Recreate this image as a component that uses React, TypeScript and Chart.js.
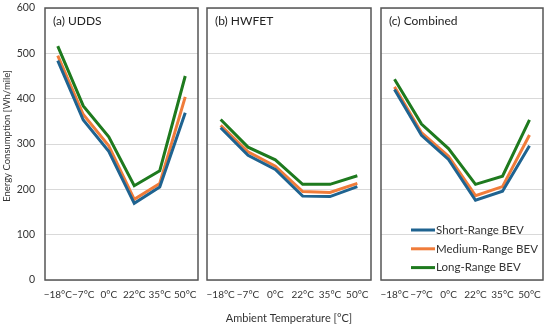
import React, { useEffect, useRef } from "react";
import { Chart, registerables } from "chart.js";
Chart.register(...registerables);

const categories = ["\u221218\u00b0C", "\u22127\u00b0C", "0\u00b0C", "22\u00b0C", "35\u00b0C", "50\u00b0C"];
const seriesNames = ["Short-Range BEV", "Medium-Range BEV", "Long-Range BEV"];
const colors = ["#1f6390", "#f07c3a", "#1e7a1e"];

const uddsShort = [484, 353, 284, 169, 205, 369];
const uddsMedium = [495, 365, 296, 178, 213, 404];
const uddsLong = [516, 384, 316, 208, 241, 450];

const hwfetShort = [336, 275, 244, 185, 184, 206];
const hwfetMedium = [341, 283, 251, 195, 193, 213];
const hwfetLong = [354, 293, 265, 211, 211, 230];

const combShort = [420, 319, 266, 176, 196, 296];
const combMedium = [426, 325, 273, 186, 206, 320];
const combLong = [443, 344, 290, 211, 229, 353];

const yTicks = [0, 100, 200, 300, 400, 500, 600];
const yTitle = "Energy Consumption [Wh/mile]";
const xTitle = "Ambient Temperature [\u00b0C]";

const FONT = "Lato, 'Noto Sans', sans-serif";

type PanelCfg = {
  label: string;
  data: number[][];
  left: number;
  width: number;
  padLeft: number;
  padRight: number;
  showY: boolean;
  xTitle: boolean;
  legend: boolean;
};

const panels: PanelCfg[] = [
  { label: "(a) UDDS", data: [uddsShort, uddsMedium, uddsLong], left: 0, width: 202, padLeft: 0, padRight: 4, showY: true, xTitle: false, legend: false },
  { label: "(b) HWFET", data: [hwfetShort, hwfetMedium, hwfetLong], left: 202, width: 173, padLeft: 5, padRight: 4, showY: false, xTitle: true, legend: false },
  { label: "(c) Combined", data: [combShort, combMedium, combLong], left: 375, width: 175, padLeft: 6, padRight: 7, showY: false, xTitle: false, legend: true },
];

function Panel({ cfg }: { cfg: PanelCfg }) {
  const ref = useRef<HTMLCanvasElement>(null);
  useEffect(() => {
    const canvas = ref.current!;
    const deco = {
      id: "deco",
      afterDatasetsDraw(chart: any) {
        const { ctx, chartArea } = chart;
        ctx.save();
        ctx.strokeStyle = "#555555";
        ctx.lineWidth = 1.5;
        ctx.strokeRect(chartArea.left, chartArea.top, chartArea.right - chartArea.left, chartArea.bottom - chartArea.top);
        ctx.fillStyle = "#222222";
        ctx.font = "12px " + FONT;
        ctx.textBaseline = "middle";
        ctx.textAlign = "left";
        ctx.fillText(cfg.label, chartArea.left + 8, chartArea.top + 13);
        if (cfg.showY) {
          ctx.save();
          ctx.translate(7, 136);
          ctx.rotate(-Math.PI / 2);
          ctx.textAlign = "center";
          ctx.fillStyle = "#333333";
          ctx.font = "9.5px " + FONT;
          ctx.fillText(yTitle, 0, 0);
          ctx.restore();
        }
        if (cfg.legend) {
          ctx.font = "11.5px " + FONT;
          seriesNames.forEach((n, i) => {
            const y = 230 + i * 18.8;
            ctx.strokeStyle = colors[i];
            ctx.lineWidth = 3;
            ctx.beginPath();
            ctx.moveTo(36, y);
            ctx.lineTo(60, y);
            ctx.stroke();
            ctx.fillStyle = "#333333";
            ctx.fillText(n, 61, y);
          });
        }
        ctx.restore();
      },
    };
    const chart = new Chart(canvas, {
      type: "line",
      data: {
        labels: categories,
        datasets: cfg.data.map((d, i) => ({
          label: seriesNames[i],
          data: d,
          borderColor: colors[i],
          backgroundColor: colors[i],
          borderWidth: 3,
          pointRadius: 0,
          tension: 0,
        })),
      },
      options: {
        responsive: false,
        animation: false,
        layout: { padding: { top: 8, left: cfg.padLeft, right: cfg.padRight, bottom: 0 } },
        plugins: { legend: { display: false }, tooltip: { enabled: false } },
        scales: {
          x: {
            offset: true,
            grid: { display: false, drawTicks: false },
            border: { display: false },
            ticks: { color: "#333333", font: { family: FONT, size: 10 }, padding: 9, maxRotation: 0, autoSkip: false },
            title: cfg.xTitle
              ? { display: true, text: xTitle, color: "#333333", font: { family: FONT, size: 11 }, padding: { top: 0, bottom: 4 } }
              : { display: false },
            afterFit(scale: any) {
              scale.height = 49;
              scale.paddingLeft = 0;
              scale.paddingRight = 0;
            },
          },
          y: {
            display: true,
            min: 0,
            max: 600,
            afterBuildTicks(scale: any) {
              scale.ticks = yTicks.map((v) => ({ value: v }));
            },
            grid: { color: "#d9d9d9", lineWidth: 1, drawTicks: false },
            border: { display: false },
            ticks: {
              display: cfg.showY,
              color: "#333333",
              font: { family: FONT, size: 10.5 },
              padding: 10,
            },
            title: { display: false },
            afterFit(scale: any) {
              scale.width = cfg.showY ? 45 : 0;
              scale.paddingTop = 0;
              scale.paddingBottom = 0;
            },
          },
        },
      },
      plugins: [deco],
    });
    return () => chart.destroy();
  }, []);
  return (
    <div style={{ position: "absolute", left: cfg.left, top: 0, width: cfg.width, height: 329 }}>
      <canvas ref={ref} width={cfg.width} height={329} style={{ display: "block" }} />
    </div>
  );
}

export default function App() {
  return (
    <div style={{ position: "fixed", left: 0, top: 0, width: 550, height: 329, background: "#ffffff" }}>
      {panels.map((p) => (
        <Panel key={p.label} cfg={p} />
      ))}
    </div>
  );
}
